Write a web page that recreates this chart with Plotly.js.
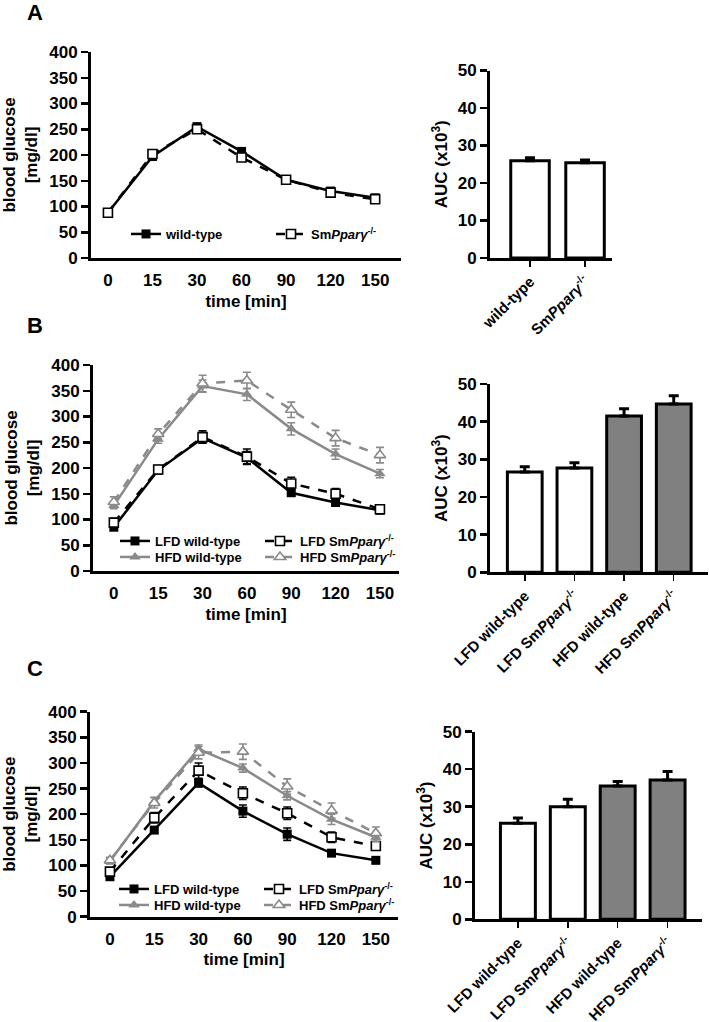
<!DOCTYPE html>
<html><head><meta charset="utf-8">
<script src="https://cdn.plot.ly/plotly-3.0.1.min.js"></script>
<style>html,body{margin:0;padding:0;background:#fff}#chart{width:709px;height:1022px}</style>
</head><body><div id="chart"></div>
<script>
// ---------- data ----------
const times = ['0','15','30','60','90','120','150'];

// Panel A (blood glucose, mg/dl)
const aWT     = [88, 197, 255, 207, 152, 130, 117];
const aWTerr  = [4, 5, 6, 5, 4, 4, 4];
const aKO     = [88, 202, 250, 195, 152, 127, 114];
const aKOerr  = [4, 5, 6, 5, 4, 4, 4];

// Panel B
const bLfdWT    = [85, 196, 258, 220, 152, 133, 118];
const bLfdWTerr = [6, 6, 10, 12, 6, 6, 5];
const bLfdKO    = [94, 197, 260, 222, 170, 150, 120];
const bLfdKOerr = [8, 8, 12, 15, 12, 10, 6];
const bHfdWT    = [127, 256, 359, 343, 276, 227, 189];
const bHfdWTerr = [6, 8, 12, 12, 12, 10, 8];
const bHfdKO    = [134, 266, 364, 370, 313, 258, 225];
const bHfdKOerr = [10, 10, 16, 16, 15, 15, 15];

// Panel C
const cLfdWT    = [78, 169, 261, 206, 161, 124, 110];
const cLfdWTerr = [4, 6, 8, 12, 12, 6, 5];
const cLfdKO    = [88, 193, 285, 241, 202, 155, 138];
const cLfdKOerr = [6, 10, 15, 12, 12, 10, 8];
const cHfdWT    = [108, 225, 327, 290, 236, 190, 155];
const cHfdWTerr = [5, 8, 8, 8, 8, 10, 8];
const cHfdKO    = [110, 222, 320, 322, 254, 207, 163];
const cHfdKOerr = [6, 10, 12, 15, 15, 15, 12];

// AUC (x10^3)
const aucCatsA = ['wild-type', 'Sm<i>Pparγ</i><sup>-/-</sup>'];
const aucA     = [25.9, 25.4];
const aucAerr  = [0.8, 0.7];
const aucCats  = ['LFD wild-type', 'LFD Sm<i>Pparγ</i><sup>-/-</sup>', 'HFD wild-type', 'HFD Sm<i>Pparγ</i><sup>-/-</sup>'];
const aucB     = [26.6, 27.7, 41.5, 44.7];
const aucBerr  = [1.4, 1.4, 1.9, 2.2];
const aucC     = [25.6, 30.0, 35.5, 37.1];
const aucCerr  = [1.4, 2.0, 1.2, 2.3];

const nameWT  = 'wild-type';
const nameKO  = 'Sm<i>Pparγ</i><sup>-/-</sup>';
const nameLWT = 'LFD wild-type';
const nameLKO = 'LFD Sm<i>Pparγ</i><sup>-/-</sup>';
const nameHWT = 'HFD wild-type';
const nameHKO = 'HFD Sm<i>Pparγ</i><sup>-/-</sup>';

// ---------- styling helpers ----------
const W = 709, H = 1022;
const px = v => v / W;
const py = v => 1 - v / H;
const FAM = 'Liberation Sans, Arial, sans-serif';
const BLACK = '#000000', GREY = '#8a8a8a', BARGREY = '#808080';
const f = (s, extra) => Object.assign({family: FAM, size: s, color: BLACK, weight: 'bold'}, extra || {});

function series(x, y, err, xa, ya, name, color, dash, symbol, hollow, legend) {
  const tri = symbol.indexOf('triangle') === 0;
  return {
    type: 'scatter', mode: 'lines+markers', x: x, y: y, name: name,
    xaxis: xa, yaxis: ya, legend: legend, cliponaxis: false,
    line: {color: color, width: 2.5, dash: dash},
    marker: {symbol: symbol, size: tri ? 10 : 9,
             color: hollow ? '#ffffff' : color,
             line: {color: color, width: hollow ? 1.6 : 0}},
    error_y: {type: 'data', array: err, visible: true, color: color, thickness: 1.6, width: 4}
  };
}
function bars(cats, vals, err, xa, ya) {
  return {
    type: 'bar', x: cats, y: vals, xaxis: xa, yaxis: ya, showlegend: false,
    marker: {color: cats.map(c => c.indexOf('HFD') === 0 ? BARGREY : '#ffffff'),
             line: {color: BLACK, width: 3}},
    error_y: {type: 'data', symmetric: false, array: err, arrayminus: err.map(() => 0),
              visible: true, color: BLACK, thickness: 3, width: 5}
  };
}

const traces = [
  series(times, aWT, aWTerr, 'x', 'y', nameWT, BLACK, 'solid', 'square', false, 'legend'),
  series(times, aKO, aKOerr, 'x', 'y', nameKO, BLACK, 'dash', 'square', true, 'legend'),
  bars(aucCatsA, aucA, aucAerr, 'x2', 'y2'),

  series(times, bLfdWT, bLfdWTerr, 'x3', 'y3', nameLWT, BLACK, 'solid', 'square', false, 'legend2'),
  series(times, bLfdKO, bLfdKOerr, 'x3', 'y3', nameLKO, BLACK, 'dash', 'square', true, 'legend2'),
  series(times, bHfdWT, bHfdWTerr, 'x3', 'y3', nameHWT, GREY, 'solid', 'triangle-up', false, 'legend3'),
  series(times, bHfdKO, bHfdKOerr, 'x3', 'y3', nameHKO, GREY, 'dash', 'triangle-up', true, 'legend3'),
  bars(aucCats, aucB, aucBerr, 'x4', 'y4'),

  series(times, cLfdWT, cLfdWTerr, 'x5', 'y5', nameLWT, BLACK, 'solid', 'square', false, 'legend4'),
  series(times, cLfdKO, cLfdKOerr, 'x5', 'y5', nameLKO, BLACK, 'dash', 'square', true, 'legend4'),
  series(times, cHfdWT, cHfdWTerr, 'x5', 'y5', nameHWT, GREY, 'solid', 'triangle-up', false, 'legend5'),
  series(times, cHfdKO, cHfdKOerr, 'x5', 'y5', nameHKO, GREY, 'dash', 'triangle-up', true, 'legend5'),
  bars(aucCats, aucC, aucCerr, 'x6', 'y6')
];

function lineX(d, range, anchor) {
  return {domain: d, anchor: anchor, type: 'category', range: range, showline: true, linewidth: 3,
          linecolor: BLACK, showgrid: false, zeroline: false, ticks: 'outside', ticklen: 5,
          tickcolor: 'rgba(0,0,0,0)', tickfont: f(17), fixedrange: true,
          title: {text: 'time [min]', font: f(17), standoff: 6}};
}
function lineY(d, anchor) {
  return {domain: d, anchor: anchor, range: [0, 400], dtick: 50, showline: true, linewidth: 3,
          linecolor: BLACK, showgrid: false, zeroline: false, ticks: 'outside', ticklen: 7,
          tickwidth: 2.5, tickcolor: BLACK, tickfont: f(17), fixedrange: true,
          title: {text: 'blood glucose<br>[mg/dl]', font: f(17), standoff: 8}};
}
function barX(d, range, anchor) {
  return {domain: d, anchor: anchor, type: 'category', range: range, showline: true, linewidth: 3,
          linecolor: BLACK, showgrid: false, zeroline: false, ticks: 'outside', ticklen: 6,
          tickwidth: 1.5, tickcolor: BLACK, tickangle: -45, tickfont: f(15), fixedrange: true};
}
function barY(d, anchor) {
  return {domain: d, anchor: anchor, range: [0, 50], dtick: 10, showline: true, linewidth: 3,
          linecolor: BLACK, showgrid: false, zeroline: false, ticks: 'outside', ticklen: 7,
          tickwidth: 2.5, tickcolor: BLACK, tickfont: f(17), fixedrange: true,
          title: {text: 'AUC (x10<sup>3</sup>)', font: f(17), standoff: 6}};
}
function leg(x, y, ew) {
  return {orientation: 'h', x: px(x), y: py(y), xanchor: 'left', yanchor: 'middle',
          bgcolor: 'rgba(0,0,0,0)', borderwidth: 0, font: f(13), entrywidth: ew,
          entrywidthmode: 'pixels', tracegroupgap: 0, itemclick: false};
}
function letter(t, x, y) {
  return {text: t, xref: 'paper', yref: 'paper', x: px(x), y: py(y), showarrow: false,
          xanchor: 'center', yanchor: 'middle', font: f(22)};
}

const layout = {
  width: W, height: H, margin: {l: 0, r: 0, t: 0, b: 0},
  paper_bgcolor: '#ffffff', plot_bgcolor: 'rgba(0,0,0,0)',
  font: f(17), barmode: 'overlay', bargap: 0.3, showlegend: true,
  xaxis:  lineX([px(91), px(401)], [-0.38, 6.58], 'y'),
  yaxis:  lineY([py(258), py(52)], 'x'),
  xaxis2: barX([px(490), px(612)], [-0.727, 1.49], 'y2'),
  yaxis2: barY([py(258), py(70.5)], 'x2'),
  xaxis3: lineX([px(93), px(399)], [-0.47, 6.43], 'y3'),
  yaxis3: lineY([py(571), py(365)], 'x3'),
  xaxis4: barX([px(490), px(708)], [-0.70, 3.69], 'y4'),
  yaxis4: barY([py(572.3), py(384)], 'x4'),
  xaxis5: lineX([px(90), px(398)], [-0.45, 6.5], 'y5'),
  yaxis5: lineY([py(916.7), py(711.7)], 'x5'),
  xaxis6: barX([px(475), px(702)], [-0.86, 3.69], 'y6'),
  yaxis6: barY([py(919.3), py(731.7)], 'x6'),
  legend:  leg(126, 234, 100),
  legend2: leg(115, 541, 100),
  legend3: leg(115, 557, 100),
  legend4: leg(114, 889, 100),
  legend5: leg(114, 905, 100),
  annotations: [letter('A', 35, 12), letter('B', 35, 325), letter('C', 35, 668)]
};

Plotly.newPlot('chart', traces, layout, {staticPlot: true, displayModeBar: false});
</script>
</body></html>
